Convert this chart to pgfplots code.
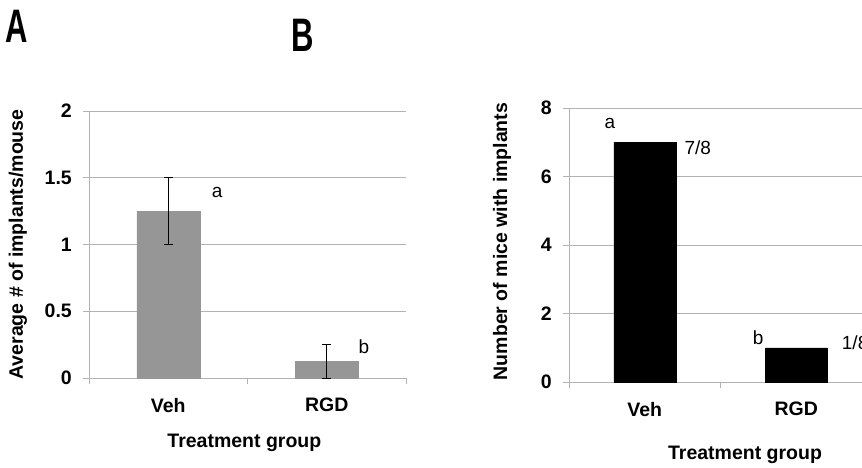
\documentclass[border=0pt]{standalone}
\usepackage{fontspec}
\setmainfont{Liberation Sans}
\usepackage{graphicx}
\usepackage{pgfplots}
\pgfplotsset{compat=1.18}
\definecolor{gridc}{RGB}{178,178,178}
\definecolor{barA}{RGB}{150,150,150}
\newcommand{\lab}{\fontsize{19.5}{22}\selectfont\bfseries}
\newcommand{\ann}{\fontsize{19}{22}\selectfont}
\pgfplotsset{
  panel/.style={
    scale only axis,
    anchor=south west,
    xmin=0.5, xmax=2.5, ymin=0,
    axis lines=left,
    axis line style={gridc,-},
    ymajorgrids=true,
    grid style={gridc, line width=0.8pt},
    tick align=outside,
    tick pos=left,
    major tick length=6pt,
    ytick style={gridc, line width=0.8pt},
    xtick={1,2},
    xticklabels={Veh,RGD},
    xtick style={draw=none},
    extra x ticks={0.5,1.5,2.5},
    extra x tick labels={},
    extra x tick style={grid=none, xtick style={draw=gridc, line width=0.8pt}},
    ticklabel style={font=\lab},
    yticklabel style={anchor=east, inner sep=0pt},
    yticklabel shift=11pt,
    xticklabel style={anchor=north, inner sep=0pt},
    xticklabel shift=14pt,
    label style={font=\lab},
    clip=false,
  }
}
\begin{document}
\begin{tikzpicture}[x=1pt,y=1pt]
\useasboundingbox (0,0) rectangle (862,467);
\clip (0,0) rectangle (862,467);
% Panel A
\begin{axis}[panel,
  at={(89pt,89pt)},
  width=317pt, height=267pt,
  ymax=2,
  ytick={0,0.5,1,1.5,2},
  yticklabels={0,0.5,1,1.5,2},
  xlabel={Treatment group},
  xlabel style={at={(axis description cs:0.49,-0.243)}, anchor=center},
  ylabel={Average \# of implants/mouse},
  ylabel style={at={(axis description cs:-0.224,0.5)}, anchor=center},
]
\addplot[ybar, bar width=63pt, fill=barA, draw=barA,
  error bars/.cd, y dir=both, y explicit,
  error bar style={black, line width=1pt},
  error mark options={rotate=90, mark size=4.5pt, black, line width=1pt}]
  coordinates {(1,1.25) +- (0,0.25) (2,0.125) +- (0,0.125)};
\node[font=\ann] at (axis cs:1.308,1.386) {a};
\node[font=\ann] at (axis cs:2.235,0.232) {b};
\end{axis}
% Panel B
\begin{axis}[panel,
  at={(569pt,85pt)},
  width=303pt, height=274pt,
  ymax=8,
  ytick={0,2,4,6,8},
  yticklabels={0,2,4,6,8},
  xlabel={Treatment group},
  xlabel style={at={(axis description cs:0.581,-0.266)}, anchor=center},
  ylabel={Number of mice with implants},
  ylabel style={at={(axis description cs:-0.221,0.513)}, anchor=center},
]
\addplot[ybar, bar width=62pt, fill=black, draw=black]
  coordinates {(1,7) (2,1)};
\node[font=\ann] at (axis cs:0.77,7.56) {a};
\node[font=\ann] at (axis cs:1.35,6.83) {7/8};
\node[font=\ann] at (axis cs:1.748,1.28) {b};
\node[font=\ann, anchor=west, inner sep=0pt] at (axis cs:2.30,1.14) {1/8};
\end{axis}
% Panel letters
\node[font=\fontsize{47}{50}\selectfont\bfseries] at (17,441) {\scalebox{0.66}[1]{A}};
\node[font=\fontsize{47}{50}\selectfont\bfseries] at (303,431.5) {\scalebox{0.66}[1]{B}};
\end{tikzpicture}
\end{document}
